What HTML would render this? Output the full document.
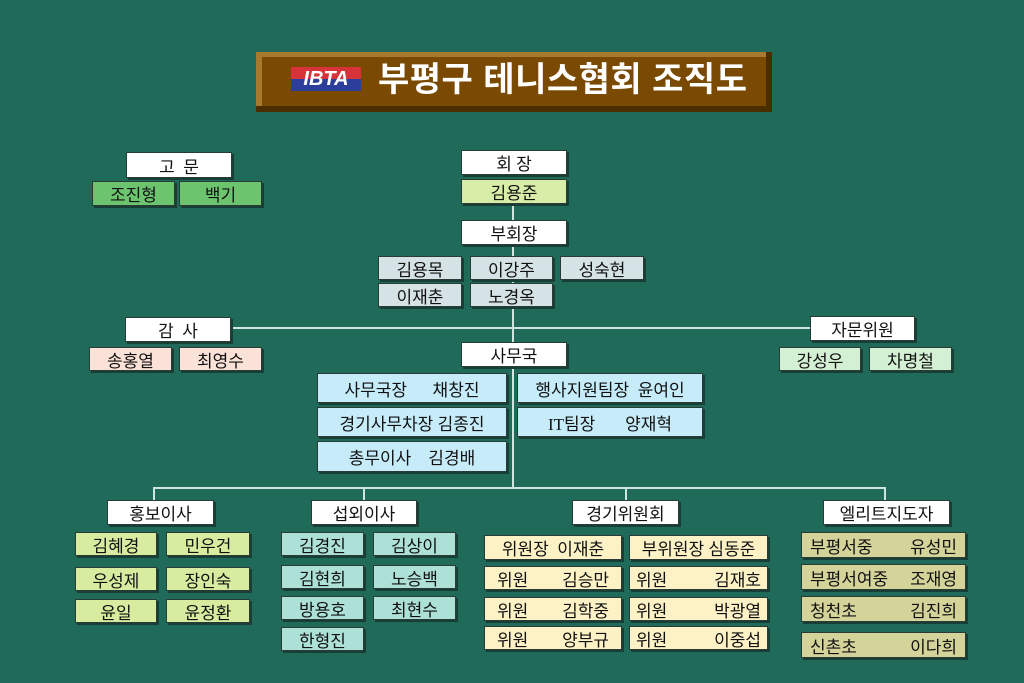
<!DOCTYPE html>
<html><head><meta charset="utf-8"><style>
body{margin:0;width:1024px;height:683px;background:#1f6a58;position:relative;overflow:hidden;font-family:"Liberation Serif","Noto Sans CJK KR",sans-serif;}
.b{position:absolute;box-sizing:border-box;border:1px solid #2a3a34;box-shadow:2px 2px 0 #173f35;font-size:17px;color:#111;display:flex;align-items:center;justify-content:center;white-space:pre;}
.j{justify-content:space-between;padding:0 12px;}
.w{background:#fff}
.ln{position:absolute;background:#cfe6de;}
</style></head><body>
<!-- title -->
<div style="position:absolute;left:256px;top:52px;width:516px;height:60px;background:#4a2e00;"></div>
<div style="position:absolute;left:256px;top:52px;width:510px;height:54px;background:#a87a30;"></div>
<div style="position:absolute;left:262px;top:57px;width:504px;height:49px;background:#7a4a02;"></div>
<div style="position:absolute;left:291px;top:67px;width:70px;height:24px;background:#fff;overflow:hidden;">
<div style="position:absolute;left:0;top:0;width:70px;height:12px;background:#d8323a;"></div>
<div style="position:absolute;left:0;top:12px;width:70px;height:12px;background:#2b3f9a;"></div>
<div style="position:absolute;left:0;top:1px;width:70px;text-align:center;color:#fff;font:italic bold 20px 'Liberation Sans',sans-serif;line-height:22px;">IBTA</div>
</div>
<div style="position:absolute;left:378px;top:57px;color:#fff;font:bold 34px 'Liberation Sans','Noto Sans CJK KR',sans-serif;line-height:46px;letter-spacing:0.5px;">부평구 테니스협회 조직도</div>

<!-- lines -->
<div class="ln" style="left:512px;top:204px;width:2px;height:285px"></div>
<div class="ln" style="left:231px;top:327px;width:580px;height:2px"></div>
<div class="ln" style="left:153px;top:487px;width:733px;height:2px"></div>
<div class="ln" style="left:153px;top:487px;width:2px;height:14px"></div>
<div class="ln" style="left:363px;top:487px;width:2px;height:14px"></div>
<div class="ln" style="left:625px;top:487px;width:2px;height:14px"></div>
<div class="ln" style="left:884px;top:487px;width:2px;height:14px"></div>

<div class="b w" style="left:126px;top:152px;width:106px;height:26px">고  문</div>
<div class="b" style="left:92px;top:181px;width:83px;height:25px;background:#6cc46e">조진형</div>
<div class="b" style="left:179px;top:181px;width:83px;height:25px;background:#6cc46e">백기</div>

<div class="b w" style="left:461px;top:150px;width:106px;height:25px">회 장</div>
<div class="b" style="left:461px;top:179px;width:106px;height:25px;background:#d8eda8">김용준</div>
<div class="b w" style="left:461px;top:220px;width:106px;height:25px">부회장</div>
<div class="b" style="left:378px;top:256px;width:84px;height:24px;background:#d5e2e6">김용목</div>
<div class="b" style="left:470px;top:256px;width:83px;height:24px;background:#d5e2e6">이강주</div>
<div class="b" style="left:560px;top:256px;width:84px;height:24px;background:#d5e2e6">성숙현</div>
<div class="b" style="left:378px;top:283px;width:84px;height:24px;background:#d5e2e6">이재춘</div>
<div class="b" style="left:470px;top:283px;width:83px;height:24px;background:#d5e2e6">노경옥</div>

<div class="b w" style="left:125px;top:317px;width:106px;height:25px">감  사</div>
<div class="b" style="left:89px;top:347px;width:83px;height:24px;background:#fbe2d8">송홍열</div>
<div class="b" style="left:179px;top:347px;width:83px;height:24px;background:#fbe2d8">최영수</div>

<div class="b w" style="left:810px;top:316px;width:105px;height:25px">자문위원</div>
<div class="b" style="left:779px;top:347px;width:82px;height:24px;background:#d4f0d4">강성우</div>
<div class="b" style="left:869px;top:347px;width:83px;height:24px;background:#d4f0d4">차명철</div>

<div class="b w" style="left:461px;top:342px;width:106px;height:25px">사무국</div>
<div class="b" style="left:317px;top:373px;width:190px;height:30px;background:#c6ecfa">사무국장      채창진</div>
<div class="b" style="left:317px;top:407px;width:190px;height:30px;background:#c6ecfa">경기사무차장 김종진</div>
<div class="b" style="left:317px;top:441px;width:190px;height:31px;background:#c6ecfa">총무이사    김경배</div>
<div class="b" style="left:517px;top:373px;width:186px;height:30px;background:#c6ecfa">행사지원팀장  윤여인</div>
<div class="b" style="left:517px;top:407px;width:186px;height:30px;background:#c6ecfa">IT팀장       양재혁</div>

<div class="b w" style="left:107px;top:500px;width:107px;height:25px">홍보이사</div>
<div class="b" style="left:75px;top:532px;width:82px;height:24px;background:#d8eca0">김혜경</div>
<div class="b" style="left:166px;top:532px;width:84px;height:24px;background:#d8eca0">민우건</div>
<div class="b" style="left:75px;top:567px;width:82px;height:24px;background:#d8eca0">우성제</div>
<div class="b" style="left:166px;top:567px;width:84px;height:24px;background:#d8eca0">장인숙</div>
<div class="b" style="left:75px;top:599px;width:82px;height:24px;background:#d8eca0">윤일</div>
<div class="b" style="left:166px;top:599px;width:84px;height:24px;background:#d8eca0">윤정환</div>

<div class="b w" style="left:311px;top:500px;width:106px;height:25px">섭외이사</div>
<div class="b" style="left:281px;top:532px;width:83px;height:24px;background:#ade0d6">김경진</div>
<div class="b" style="left:373px;top:532px;width:83px;height:24px;background:#ade0d6">김상이</div>
<div class="b" style="left:281px;top:565px;width:83px;height:24px;background:#ade0d6">김현희</div>
<div class="b" style="left:373px;top:565px;width:83px;height:24px;background:#ade0d6">노승백</div>
<div class="b" style="left:281px;top:596px;width:83px;height:24px;background:#ade0d6">방용호</div>
<div class="b" style="left:373px;top:596px;width:83px;height:24px;background:#ade0d6">최현수</div>
<div class="b" style="left:281px;top:627px;width:83px;height:24px;background:#ade0d6">한형진</div>

<div class="b w" style="left:572px;top:500px;width:107px;height:25px">경기위원회</div>
<div class="b" style="left:484px;top:535px;width:138px;height:25px;background:#fdf2c6">위원장  이재춘</div>
<div class="b" style="left:629px;top:535px;width:139px;height:25px;background:#fdf2c6">부위원장 심동준</div>
<div class="b j" style="left:484px;top:566px;width:138px;height:24px;background:#fdf2c6"><span>위원</span><span>김승만</span></div>
<div class="b j" style="left:629px;top:566px;width:139px;height:24px;background:#fdf2c6;padding:0 6px"><span>위원</span><span>김재호</span></div>
<div class="b j" style="left:484px;top:597px;width:138px;height:24px;background:#fdf2c6"><span>위원</span><span>김학중</span></div>
<div class="b j" style="left:629px;top:597px;width:139px;height:24px;background:#fdf2c6;padding:0 6px"><span>위원</span><span>박광열</span></div>
<div class="b j" style="left:484px;top:626px;width:138px;height:24px;background:#fdf2c6"><span>위원</span><span>양부규</span></div>
<div class="b j" style="left:629px;top:626px;width:139px;height:24px;background:#fdf2c6;padding:0 6px"><span>위원</span><span>이중섭</span></div>

<div class="b w" style="left:823px;top:500px;width:127px;height:25px">엘리트지도자</div>
<div class="b j" style="left:801px;top:532px;width:165px;height:26px;background:#d3d39a;padding:0 8px"><span>부평서중</span><span>유성민</span></div>
<div class="b j" style="left:801px;top:564px;width:165px;height:26px;background:#d3d39a;padding:0 8px"><span>부평서여중</span><span>조재영</span></div>
<div class="b j" style="left:801px;top:596px;width:165px;height:26px;background:#d3d39a;padding:0 8px"><span>청천초</span><span>김진희</span></div>
<div class="b j" style="left:801px;top:632px;width:165px;height:26px;background:#d3d39a;padding:0 8px"><span>신촌초</span><span>이다희</span></div>
</body></html>
